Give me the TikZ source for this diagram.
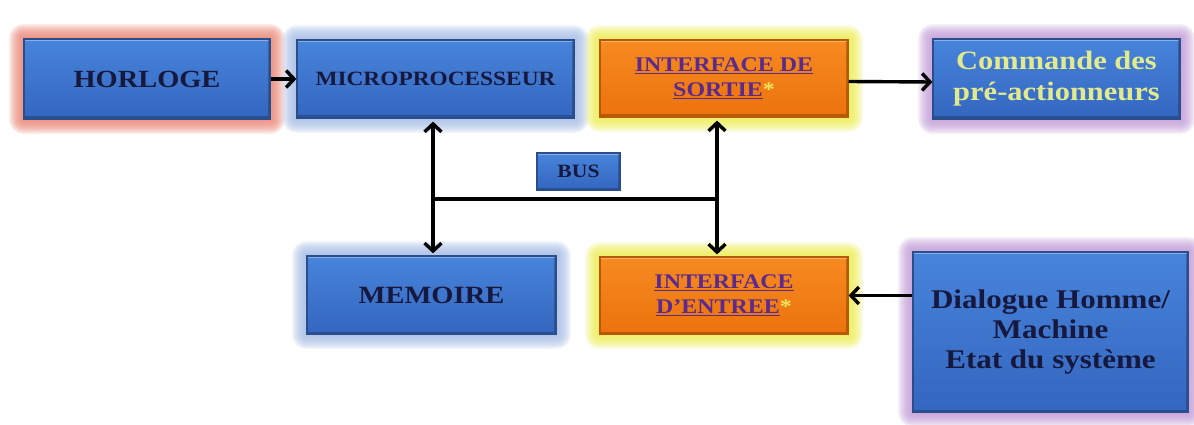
\documentclass[tikz,border=0pt]{standalone}
\usepackage{fontspec}
\setmainfont{Liberation Serif}
\newfontfamily\boxfont[FakeStretch=1.15]{Liberation Serif}
\usetikzlibrary{arrows.meta,backgrounds}

\definecolor{bluetop}{HTML}{4884DB}
\definecolor{bluebot}{HTML}{3466BF}
\definecolor{blueedge}{HTML}{2A4D8C}
\definecolor{orangetop}{HTML}{F68A20}
\definecolor{orangebot}{HTML}{EC720C}
\definecolor{orangeedge}{HTML}{B85808}
\definecolor{navytext}{HTML}{17183E}
\definecolor{purpletext}{HTML}{5A2A8E}
\definecolor{staryellow}{HTML}{F3E45A}
\definecolor{cmdtext}{HTML}{E2EA8E}
\definecolor{glowred}{HTML}{EC8576}
\definecolor{glowblue}{HTML}{A6BDE6}
\definecolor{glowyellow}{HTML}{EEEE50}
\definecolor{glowpurple}{HTML}{C29CD8}

% soft coloured halo around a named box
\newcommand\halo[2]{%
  \foreach \d in {2,4,...,14}{%
    \fill[#2, opacity=0.22, rounded corners=\d pt]
      ([shift={(-\d,-\d)}]#1.north west) rectangle ([shift={(\d,\d)}]#1.south east);
  }%
}

\tikzset{
  bevel/.style={path picture={
    \draw[white, opacity=0.35, line width=4pt]
      (path picture bounding box.north west) -- (path picture bounding box.north east);
    \draw[black, opacity=0.22, line width=5pt]
      (path picture bounding box.south west) -- (path picture bounding box.south east)
      -- (path picture bounding box.north east);
  }},
  bluebox/.style={rectangle, inner sep=0pt, align=center, text=navytext, bevel,
    top color=bluetop, bottom color=bluebot, draw=blueedge, line width=1.2pt},
  orangebox/.style={rectangle, inner sep=0pt, align=center, text=purpletext, bevel,
    top color=orangetop, bottom color=orangebot, draw=orangeedge, line width=1.2pt},
  tip/.tip={Straight Barb[length=8pt,width=17pt,line width=3.4pt]},
  conn/.style={line width=3.4pt, black},
  arr/.style={conn, -tip},
  arrboth/.style={conn, tip-tip},
}

% bold box lettering: size and line spacing
\newcommand\bx[2]{\boxfont\fontsize{#1}{#2}\selectfont\bfseries}

\begin{document}
\begin{tikzpicture}[x=1pt,y=-1pt]
\useasboundingbox (0,0) rectangle (1194,425);

% boxes
\node[bluebox, minimum width=246pt, minimum height=80pt,
      font=\bx{24.7}{28}] (horloge) at (147,79) {HORLOGE};
\node[bluebox, minimum width=277pt, minimum height=78pt,
      font=\bx{20.3}{24}] (micro) at (435.5,79) {MICROPROCESSEUR};
\node[orangebox, minimum width=248pt, minimum height=77pt,
      font=\bx{20.8}{25}] (sortie) at (724,78.5)
      {\underline{INTERFACE DE}\\\underline{SORTIE}\textcolor{staryellow}{*}};
\node[bluebox, minimum width=247pt, minimum height=80pt, text=cmdtext,
      font=\bx{26.5}{31}] (cmd) at (1056.5,79)
      {Commande des\\pré-actionneurs};
\node[bluebox, minimum width=83pt, minimum height=37pt,
      font=\bx{18.8}{22}] (bus) at (578.5,171.5) {BUS};
\node[bluebox, minimum width=249pt, minimum height=78pt,
      font=\bx{24.8}{28}] (mem) at (431.5,295) {MEMOIRE};
\node[orangebox, minimum width=248pt, minimum height=77pt,
      font=\bx{20.8}{25}] (entree) at (724,295.5)
      {\underline{INTERFACE}\\\underline{D’ENTREE}\textcolor{staryellow}{*}};
\node[bluebox, minimum width=275pt, minimum height=160pt,
      font=\bx{27}{30}] (dial) at (1050.5,332)
      {Dialogue Homme/\\Machine\\Etat du système};

% halos behind the boxes
\begin{scope}[on background layer]
  \fill[white] (0,0) rectangle (1194,425);
  \halo{horloge}{glowred}
  \halo{micro}{glowblue}
  \halo{sortie}{glowyellow}
  \halo{cmd}{glowpurple}
  \halo{mem}{glowblue}
  \halo{entree}{glowyellow}
  \halo{dial}{glowpurple}
\end{scope}

% bus junctions
\coordinate (busL) at (433,199);
\coordinate (busR) at (717,199);

% connectors
\draw[arr] (horloge.east) -- (micro.west);
\draw[arr] ([yshift=-3pt]sortie.east) -- ([yshift=-3pt]cmd.west);
\draw[arr] (dial.west |- entree.east) -- (entree.east);
\draw[arrboth, shorten <=3pt, shorten >=2pt] (micro.south -| busL) -- (mem.north -| busL);
\draw[arrboth, shorten <=3pt, shorten >=2pt] (sortie.south -| busR) -- (entree.north -| busR);
\draw[conn] (busL) -- (busR);
\end{tikzpicture}
\end{document}
